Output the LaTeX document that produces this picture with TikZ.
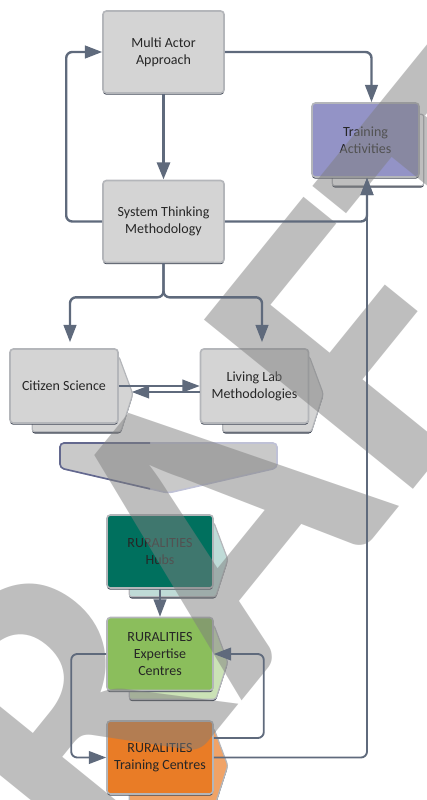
\documentclass[tikz,border=0pt]{standalone}
\usepackage{fontspec}
\setmainfont{Carlito}
\usetikzlibrary{positioning,calc,arrows.meta,shadows,backgrounds}
\definecolor{boxgray}{HTML}{D4D4D4}
\definecolor{boxrim}{HTML}{B4B6BA}
\definecolor{rimdark}{HTML}{3E4553}
\definecolor{linkc}{HTML}{5F6A7C}
\definecolor{trainc}{HTML}{9393C6}
\definecolor{hubc}{HTML}{00705E}
\definecolor{expc}{HTML}{8BBE5C}
\definecolor{centc}{HTML}{E97C26}
\definecolor{chevc}{HTML}{C9C9C9}
\definecolor{chevdark}{HTML}{3C4272}
\definecolor{chevlight}{HTML}{BFC1D6}
\definecolor{wmgray}{RGB}{126,126,126}
\tikzset{
  box/.style={rectangle, rounded corners=2.5pt, draw=boxrim, line width=1.2pt,
    fill=boxgray, align=center, text=black!85, inner sep=2pt,
    font=\fontsize{10.5}{12.8}\selectfont,
    drop shadow={shadow xshift=0pt, shadow yshift=-1.3pt, fill=rimdark, opacity=1}},
  bigbox/.style={box, minimum width=90.75pt, minimum height=61.5pt},
  midbox/.style={box, minimum width=81pt, minimum height=55.5pt},
  rurbox/.style={box, minimum width=79.5pt, minimum height=54.75pt},
  backshape/.style={draw=boxrim, line width=0.9pt, rounded corners=2pt,
    drop shadow={shadow xshift=0pt, shadow yshift=-1.3pt, fill=rimdark, opacity=1}},
  link/.style={draw=linkc, line width=1.8pt, rounded corners=4.5pt,
    -{Triangle[length=13pt,width=9.5pt]}},
  thinlink/.style={link, line width=1.4pt},
  wmark/.style={anchor=base west, rotate=51, inner sep=0pt, text=wmgray,
    text opacity=0.5, font=\bfseries\fontsize{311}{311}\selectfont}
}
\begin{document}
\begin{tikzpicture}[x=0.75pt, y=-0.75pt]
\useasboundingbox (0,0) rectangle (427,800);

\node[bigbox] (ma) at (163.5,52) {Multi Actor\\Approach};
\node[bigbox] (st) at (163.5,221.5) {System Thinking\\Methodology};
\node[midbox, minimum width=80.25pt, fill=trainc] (ta) at (365.5,140) {Training\\Activities};
\node[midbox] (cs) at (64,386) {Citizen Science};
\node[midbox] (ll) at (254.5,386) {Living Lab\\Methodologies};
\node[rurbox, fill=hubc] (hub) at (160,551.5) {RURALITIES\\Hubs};
\node[rurbox, fill=expc] (ex) at (160,654) {RURALITIES\\Expertise\\Centres};
\node[rurbox, fill=centc] (tc) at (160,757.5) {RURALITIES\\Training Centres};

\begin{scope}[on background layer]
\draw[backshape, fill=white] ($(ta.north west)+(21,12)$) rectangle ($(ta.south east)+(4,8)$);
\foreach \n/\c in {cs/boxgray, ll/boxgray, hub/hubc!25, ex/expc!45, tc/centc!70} {
  \draw[backshape, fill=\c] ($(\n.north west)+(23,8)$) -- ($(\n.north east)+(0,8)$)
    -- ($(\n.east)+(14,8)$) -- ($(\n.south east)+(2,8)$) -- ($(\n.south west)+(23,8)$) -- cycle;
}
\end{scope}

\draw[fill=chevc, draw=chevlight, line width=1.2pt, rounded corners=3pt]
  (60,443) -- (277,443) -- (277,468) -- (168,493) -- (60,468) -- cycle;
\begin{scope}
\clip (40,430) rectangle (150,500);
\draw[draw=chevdark!80, line width=1.2pt, rounded corners=3pt]
  (60,443) -- (277,443) -- (277,468) -- (168,493) -- (60,468) -- cycle;
\end{scope}

\node[wmark] (draft) at (-70,1086) {DRAFT};

\draw[link] (ma.east) -| ($(ta.north)+(6,0)$);
\draw[link, line width=2.8pt] (ma.south) -- (st.north);
\draw[link] (st.west) -- ++(-36,0) |- (ma.west);
\draw[link] (st.east) -| ($(ta.south)+(1.5,0)$);
\draw[link] (st.south) -- ++(0,34) -| ($(cs.north)+(6,-6)$);
\draw[link] (st.south) -- ++(0,34) -| ($(ll.north)+(7.5,-6)$);
\draw[thinlink] (cs.east) -- (ll.west);
\draw[thinlink] ($(ll.west)+(0,6)$) -- ($(cs.east)+(13,6)$);
\draw[thinlink] (hub.south) -- (ex.north);
\draw[thinlink] (ex.west) -- ++(-35,0) |- (tc.west);
\draw[thinlink] ($(tc.east)+(0,-19.5)$) -- ++(50,0) |- (ex.east);
\draw[thinlink] (tc.east) -| ($(ta.south)+(1.5,0)$);
\end{tikzpicture}
\end{document}
